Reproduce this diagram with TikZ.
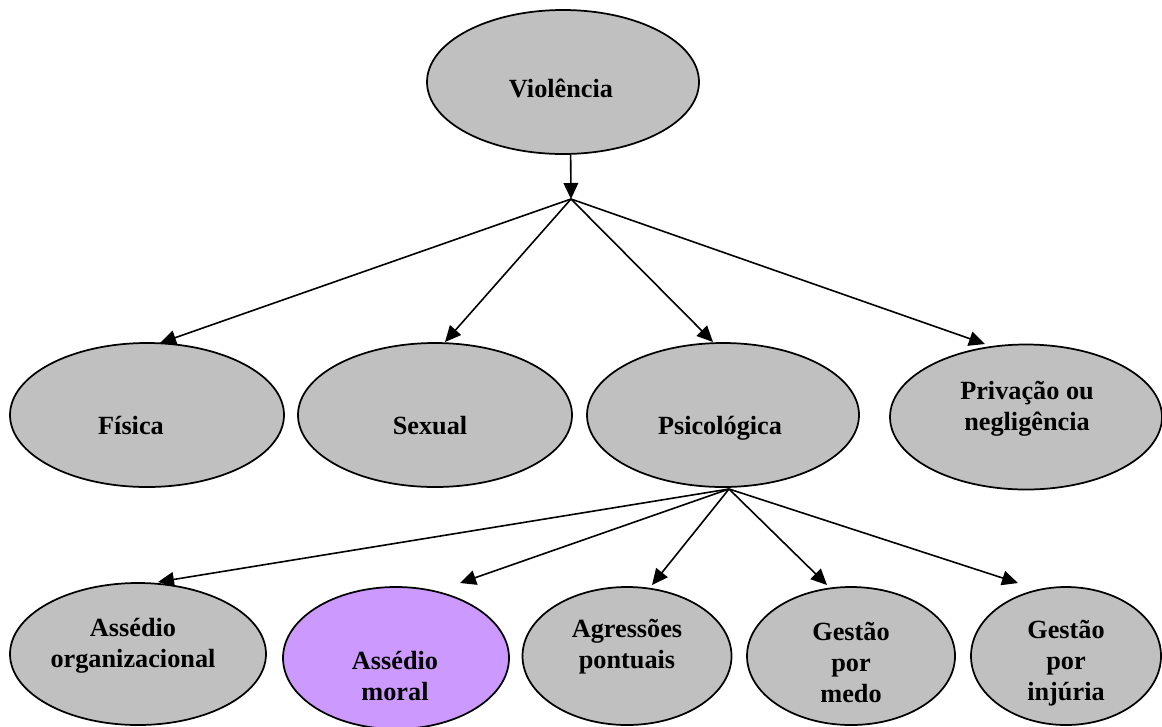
\documentclass[tikz,border=0pt]{standalone}
\usepackage{fontspec}
\setmainfont{Liberation Serif}
\usetikzlibrary{arrows.meta,calc,shapes.geometric}
\definecolor{bubgray}{HTML}{C0C0C0}
\definecolor{bubviolet}{HTML}{CC99FF}
\begin{document}
\begin{tikzpicture}[x=0.75pt,y=-0.75pt,
  bub/.style={ellipse,draw=black,line width=1.3pt,fill=bubgray,inner sep=0pt},
  lbl/.style={inner sep=0pt,anchor=base,align=center,font=\bfseries\fontsize{19.7}{23}\selectfont},
  arr/.style={line width=1.2pt,-{Triangle[length=12pt,width=11pt]}}]
\clip (0,0) rectangle (1162,726);
% level 0
\node[bub,minimum width=204pt,minimum height=108pt] (vio) at (563,82) {};
% level 1
\node[bub,minimum width=205.5pt,minimum height=108pt] (fis) at (147,415) {};
\node[bub,minimum width=205.5pt,minimum height=108pt] (sex) at (435,415) {};
\node[bub,minimum width=204pt,minimum height=108pt] (psi) at (723,415) {};
\node[bub,minimum width=204pt,minimum height=108.75pt] (pri) at (1026,417) {};
% level 2
\node[bub,minimum width=192pt,minimum height=106.5pt] (org) at (138,654) {};
\node[bub,fill=bubviolet,minimum width=169.5pt,minimum height=106.5pt] (mor) at (396,658) {};
\node[bub,minimum width=156.75pt,minimum height=103.5pt] (agr) at (627,656) {};
\node[bub,minimum width=156pt,minimum height=103.5pt] (med) at (851,656) {};
\node[bub,minimum width=142.5pt,minimum height=103.5pt] (inj) at (1066,656) {};
% junctions
\coordinate (j1) at (571,199);
\coordinate (j2) at (729,489);
% connectors
\draw[arr] (vio.-84) -- (j1);
\draw[arr] (j1) -- ($(fis.center)+(13,-72)$);
\draw[arr] (j1) -- ($(sex.center)+(10,-73)$);
\draw[arr] (j1) -- ($(psi.center)+(-10,-73)$);
\draw[arr] (j1) -- ($(pri.center)+(-41,-73)$);
\draw[arr] (j2) -- ($(org.center)+(20,-72)$);
\draw[arr] (j2) -- ($(mor.center)+(64,-75)$);
\draw[arr] (j2) -- ($(agr.center)+(25,-71)$);
\draw[arr] (j2) -- ($(med.center)+(-24,-71)$);
\draw[arr] (j2) -- ($(inj.center)+(-48,-73)$);
% texts (base = baseline of last line)
\node[lbl] (vioT) at (561,97) {Violência};
\node[lbl] (fisT) at (131,434) {Física};
\node[lbl] (sexT) at (430,434) {Sexual};
\node[lbl] (psiT) at (720,434) {Psicológica};
\node[lbl] (priT) at (1027,430) {Privação ou\\negligência};
\node[lbl] (orgT) at (133,667) {Assédio\\organizacional};
\node[lbl] (morT) at (395,700) {Assédio\\moral};
\node[lbl] (agrT) at (627,668) {Agressões\\pontuais};
\node[lbl] (medT) at (851,702) {Gestão\\por\\medo};
\node[lbl] (injT) at (1066,700) {Gestão\\por\\injúria};
\end{tikzpicture}
\end{document}
